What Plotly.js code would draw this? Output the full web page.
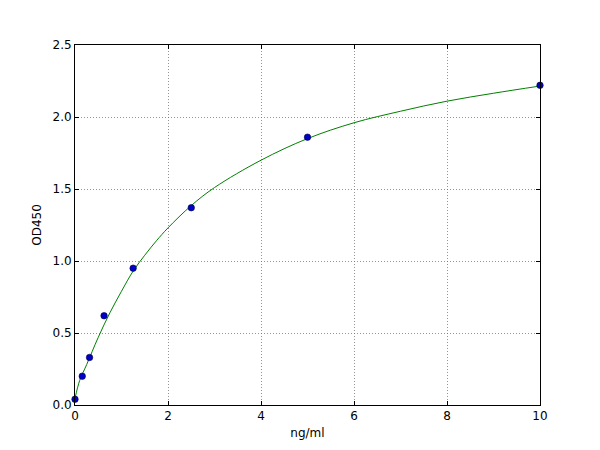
<!DOCTYPE html>
<html>
<head>
<meta charset="utf-8">
<script src="https://cdn.plot.ly/plotly-3.0.1.min.js"></script>
<style>
  html, body { margin: 0; padding: 0; background: #fff; }
  #chart { width: 600px; height: 450px; }
</style>
</head>
<body>
<div id="chart"></div>
<script>
// standards (ng/ml) and measured OD450
var concData = [0, 0.156, 0.3125, 0.625, 1.25, 2.5, 5, 10];
var odData = [0.04, 0.20, 0.33, 0.62, 0.95, 1.37, 1.86, 2.22];

// fitted curve
var fitX = [0, 0.1, 0.25, 0.5, 0.75, 1, 1.25, 1.5, 1.75, 2, 2.5, 3, 4, 5, 6, 7, 8, 9, 10];
var fitY = [0.045, 0.17, 0.28, 0.47, 0.64, 0.79, 0.93, 1.04, 1.14, 1.23, 1.385, 1.51, 1.70, 1.85, 1.96, 2.04, 2.11, 2.165, 2.215];

var xTicks = [0, 2, 4, 6, 8, 10];
var yTicks = [0, 0.5, 1, 1.5, 2, 2.5];

var font = {family: "DejaVu Sans", size: 12, color: "#000"};

var axisStyle = {
    showline: true,
    linecolor: "#000",
    linewidth: 1,
    mirror: "ticks",
    ticks: "inside",
    ticklen: 4,
    tickcolor: "#000",
    showgrid: true,
    gridcolor: "#666",
    griddash: "1px,2px",
    gridwidth: 0.7,
    zeroline: false,
    tickfont: font
};

var layout = {
    width: 600,
    height: 450,
    margin: {l: 75, r: 60, t: 45, b: 45},
    paper_bgcolor: "#fff",
    plot_bgcolor: "#fff",
    showlegend: false,
    font: font,
    xaxis: Object.assign({}, axisStyle, {
        range: [0, 10],
        tickvals: xTicks,
        ticktext: xTicks.map(String),
        title: {text: "ng/ml", font: font, standoff: 6}
    }),
    yaxis: Object.assign({}, axisStyle, {
        range: [0, 2.5],
        tickvals: yTicks,
        ticktext: yTicks.map(function (v) { return v.toFixed(1); }),
        title: {text: "OD450", font: font, standoff: 8}
    })
};

Plotly.newPlot(document.getElementById("chart"), [{
    x: fitX,
    y: fitY,
    type: "scatter",
    mode: "lines",
    line: {color: "#008000", width: 1, shape: "spline", smoothing: 1},
    hoverinfo: "skip"
}, {
    x: concData,
    y: odData,
    type: "scatter",
    mode: "markers",
    marker: {color: "#0000c8", size: 6.5, line: {color: "#000050", width: 0.6}},
    cliponaxis: false
}], layout, {staticPlot: true});
</script>
</body>
</html>
